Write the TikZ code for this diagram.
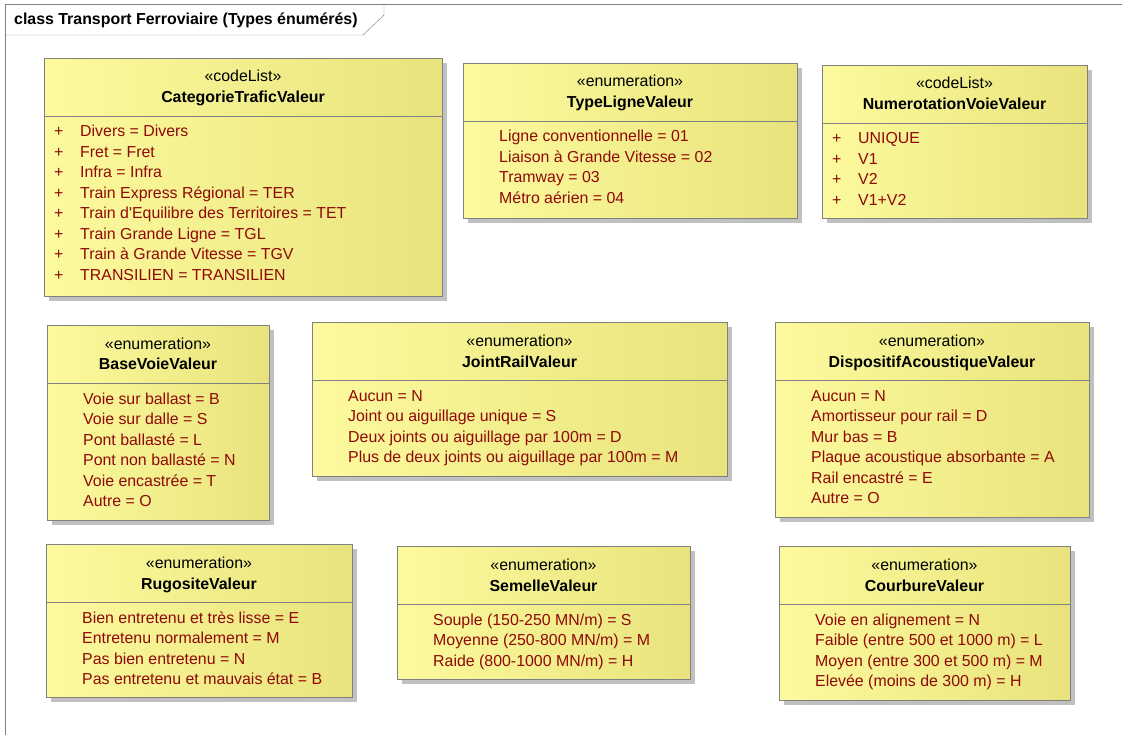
\documentclass[tikz,border=0pt]{standalone}
\usepackage{fontspec}
\setmainfont{Liberation Sans}
\usetikzlibrary{shadows}

\definecolor{boxleft}{RGB}{252,250,158}
\definecolor{boxmid}{RGB}{255,253,170}
\definecolor{boxright}{RGB}{232,227,124}
\definecolor{boxline}{RGB}{128,128,128}
\definecolor{shadowgray}{RGB}{192,192,192}
\definecolor{itemred}{RGB}{145,8,8}

% #1 marker, #2 name, #3 left, #4 top, #5 right, #6 bottom, #7 stereotype, #8 title, #9 items
\newcommand{\umlclass}[9][]{%
\node[classbox,anchor=north west,minimum width={(#5-#3)*1pt},minimum height={(#6-#4)*1pt}] (#2) at (#3,#4) {};
\node[stereo] (#2-st) at ({(#3+#5)/2},{#4+24}) {«#7»};
\node[cname] (#2-nm) at ({(#3+#5)/2},{#4+45}) {#8};
\draw[sepline] (#2.west |- 0,{#4+58}) -- (#2.east |- 0,{#4+58});
\foreach \txt [count=\i] in {#9} {
  \node[item] (#2-\i) at ({#3+36},{#4+79+(\i-1)*20.5}) {\txt};
  \if\relax\detokenize{#1}\relax\else
  \node[item] (#2-p\i) at ({#3+10},{#4+79+(\i-1)*20.5}) {#1};
  \fi
}}

\begin{document}
\begin{tikzpicture}[x=1pt,y=-1pt,
  every node/.style={inner sep=0pt,font=\fontsize{15.9}{20.5}\selectfont},
  classbox/.style={draw=boxline,left color=boxleft,middle color=boxmid,right color=boxright,
    drop shadow={shadow xshift=5pt,shadow yshift=-5pt,fill=shadowgray,opacity=1}},
  stereo/.style={anchor=base,text=black},
  cname/.style={anchor=base,text=black,font=\fontsize{15.9}{20.5}\selectfont\bfseries},
  item/.style={anchor=base west,text=itemred},
  sepline/.style={draw=boxline},
  frameline/.style={draw=boxline}]
\useasboundingbox (0,0) rectangle (1122,735);
\fill[white] (0,0) rectangle (1122,735);

\draw[frameline] (5,740) -- (5,4) -- (1130,4);
\draw[frameline] (5,35) -- (363,35) -- (384,15) -- (384,4);
\node[anchor=base west,font=\fontsize{15.9}{20.5}\selectfont\bfseries] (frametitle) at (14,24.5)
  {class Transport Ferroviaire (Types énumérés)};

\umlclass[+]{trafic}{44}{58}{442}{296}{codeList}{CategorieTraficValeur}
  {Divers = Divers, Fret = Fret, Infra = Infra, Train Express Régional = TER,
   Train d\textquotesingle Equilibre des Territoires = TET, Train Grande Ligne = TGL,
   Train à Grande Vitesse = TGV, TRANSILIEN = TRANSILIEN}
\umlclass{ligne}{463}{63}{797}{218}{enumeration}{TypeLigneValeur}
  {Ligne conventionnelle = 01, Liaison à Grande Vitesse = 02, Tramway = 03, Métro aérien = 04}
\umlclass[+]{numvoie}{822}{65}{1087}{218}{codeList}{NumerotationVoieValeur}
  {UNIQUE, V1, V2, V1+V2}

\umlclass{basevoie}{47}{325}{269}{520}{enumeration}{BaseVoieValeur}
  {Voie sur ballast = B, Voie sur dalle = S, Pont ballasté = L, Pont non ballasté = N,
   Voie encastrée = T, Autre = O}
\umlclass{joint}{312}{322}{727}{476}{enumeration}{JointRailValeur}
  {Aucun = N, Joint ou aiguillage unique = S, Deux joints ou aiguillage par 100m = D,
   Plus de deux joints ou aiguillage par 100m = M}
\umlclass{acoustique}{775}{322}{1089}{517}{enumeration}{DispositifAcoustiqueValeur}
  {Aucun = N, Amortisseur pour rail = D, Mur bas = B, Plaque acoustique absorbante = A,
   Rail encastré = E, Autre = O}

\umlclass{rugosite}{46}{544}{352}{697}{enumeration}{RugositeValeur}
  {Bien entretenu et très lisse = E, Entretenu normalement = M, Pas bien entretenu = N,
   Pas entretenu et mauvais état = B}
\umlclass{semelle}{397}{546}{690}{679}{enumeration}{SemelleValeur}
  {{Souple (150-250 MN/m) = S}, {Moyenne (250-800 MN/m) = M}, {Raide (800-1000 MN/m) = H}}
\umlclass{courbure}{779}{546}{1070}{700}{enumeration}{CourbureValeur}
  {Voie en alignement = N, {Faible (entre 500 et 1000 m) = L}, {Moyen (entre 300 et 500 m) = M},
   {Elevée (moins de 300 m) = H}}

\end{tikzpicture}
\end{document}
